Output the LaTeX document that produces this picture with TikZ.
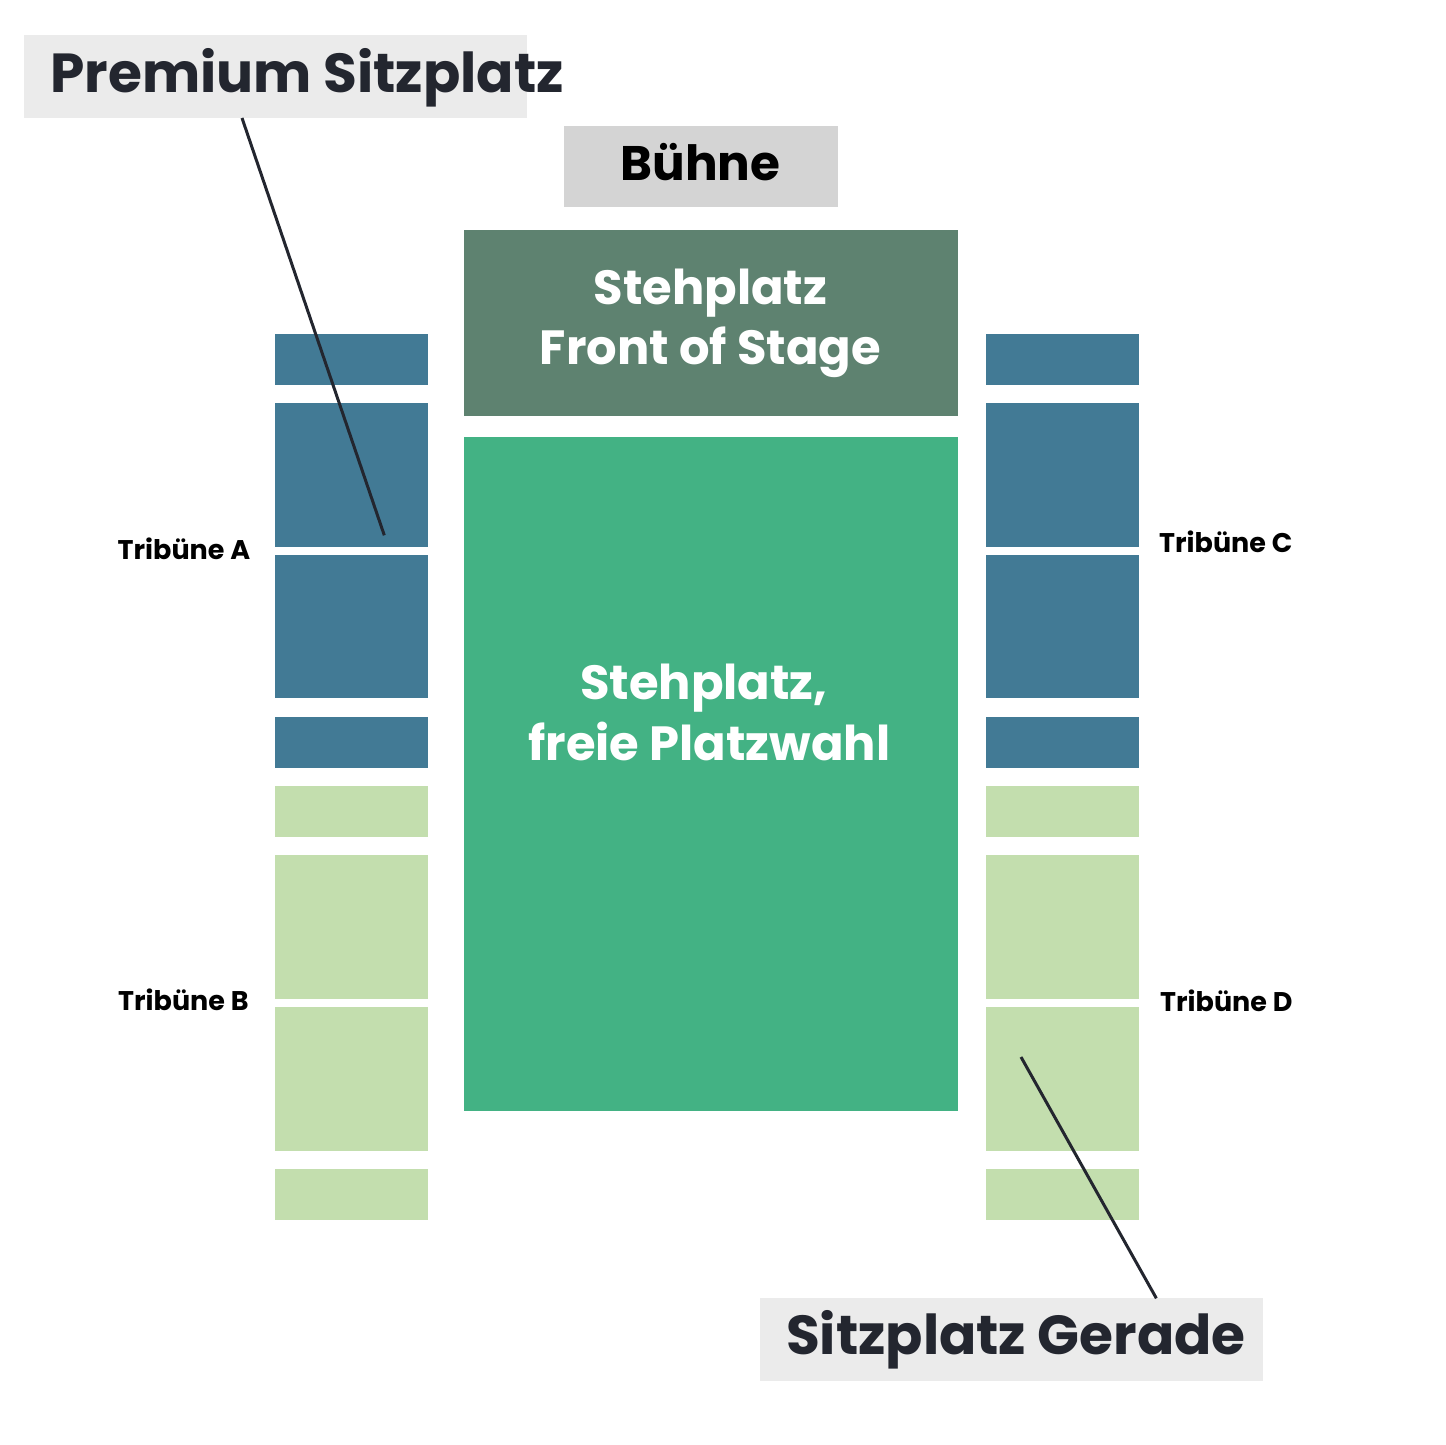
\documentclass[tikz,border=0pt]{standalone}
\usepackage{fontspec}
\setmainfont{Poppins}
\usepackage{tikz}
\usetikzlibrary{positioning, calc}

\definecolor{seatblue}{HTML}{427A95}
\definecolor{seatgreen}{HTML}{C3DEAE}
\definecolor{fosgreen}{HTML}{5E8270}
\definecolor{floorgreen}{HTML}{43B284}
\definecolor{stagegray}{HTML}{D4D4D4}
\definecolor{calloutgray}{HTML}{EBEBEB}
\definecolor{calloutink}{HTML}{23262F}

\begin{document}
\begin{tikzpicture}[
    x=1pt, y=-1pt,
    area/.style={rectangle, draw=none, inner sep=0pt, outer sep=0pt, anchor=north west},
    seatblock/.style={area, minimum width=153pt},
    calloutbox/.style={area, fill=calloutgray, minimum width=503pt, minimum height=83pt},
    callouttext/.style={font=\fontsize{55}{60}\selectfont\bfseries, text=calloutink, inner sep=0pt, anchor=base},
    areatext/.style={font=\fontsize{48}{60}\selectfont\bfseries, text=white, inner sep=0pt, anchor=base},
    standtext/.style={font=\fontsize{27}{30}\selectfont\bfseries, text=black, inner sep=0pt, anchor=base west},
    pointer/.style={draw=calloutink, line width=3pt}
]
    \useasboundingbox[fill=white] (0,0) rectangle (1445,1445);

    % Tribünen links und rechts
    \foreach \ytop/\ybot/\col [count=\i] in {333.7/385/seatblue, 403/546.7/seatblue, 554.7/698.3/seatblue, 716.7/767.7/seatblue,
        786/836.7/seatgreen, 855.3/998.7/seatgreen, 1007.3/1150.7/seatgreen, 1169/1220/seatgreen}{
        \pgfmathsetmacro{\blockh}{\ybot-\ytop}
        \node[seatblock, fill=\col, minimum height=\blockh pt] (seatL\i) at (275.3,\ytop) {};
        \node[seatblock, fill=\col, minimum height=\blockh pt] (seatR\i) at (986,\ytop) {};
    }

    \node[standtext] (tribA) at (117.5,559) {Tribüne A};
    \node[standtext] (tribB) at (118,1010.7) {Tribüne B};
    \node[standtext] (tribC) at (1159,552.3) {Tribüne C};
    \node[standtext] (tribD) at (1160,1011) {Tribüne D};

    % Bühne
    \node[area, fill=stagegray, minimum width=274.3pt, minimum height=81pt] (stage) at (563.7,126) {};
    \node[font=\fontsize{48.5}{60}\selectfont\bfseries, inner sep=0pt, anchor=base] (stagetext) at (700.6,180) {Bühne};

    % Stehplätze
    \node[area, fill=fosgreen, minimum width=494.3pt, minimum height=185.4pt] (fos) at (463.7,230.3) {};
    \node[areatext] (fostext1) at (710.4,304.3) {Stehplatz};
    \node[areatext] (fostext2) at (710.4,364) {Front of Stage};

    \node[area, fill=floorgreen, minimum width=494.3pt, minimum height=673.4pt] (floor) at (463.7,437.3) {};
    \node[areatext] (floortext1) at (703.9,699.3) {Stehplatz,};
    \node[areatext] (floortext2) at (709.3,760) {freie Platzwahl};

    % Legende
    \node[calloutbox] (premium) at (23.7,35) {};
    \node[callouttext] (premiumtext) at (307,92.7) {Premium Sitzplatz};
    \coordinate (premiumtip) at (384.3,535.3);
    \draw[pointer] ($(premium.south west)!0.434!(premium.south east)$) -- (premiumtip);

    \node[calloutbox] (gerade) at (760,1298.3) {};
    \node[callouttext] (geradetext) at (1015.9,1354.3) {Sitzplatz Gerade};
    \coordinate (geradetip) at (1021,1057);
    \draw[pointer] ($(gerade.north west)!0.788!(gerade.north east)$) -- (geradetip);
\end{tikzpicture}
\end{document}
